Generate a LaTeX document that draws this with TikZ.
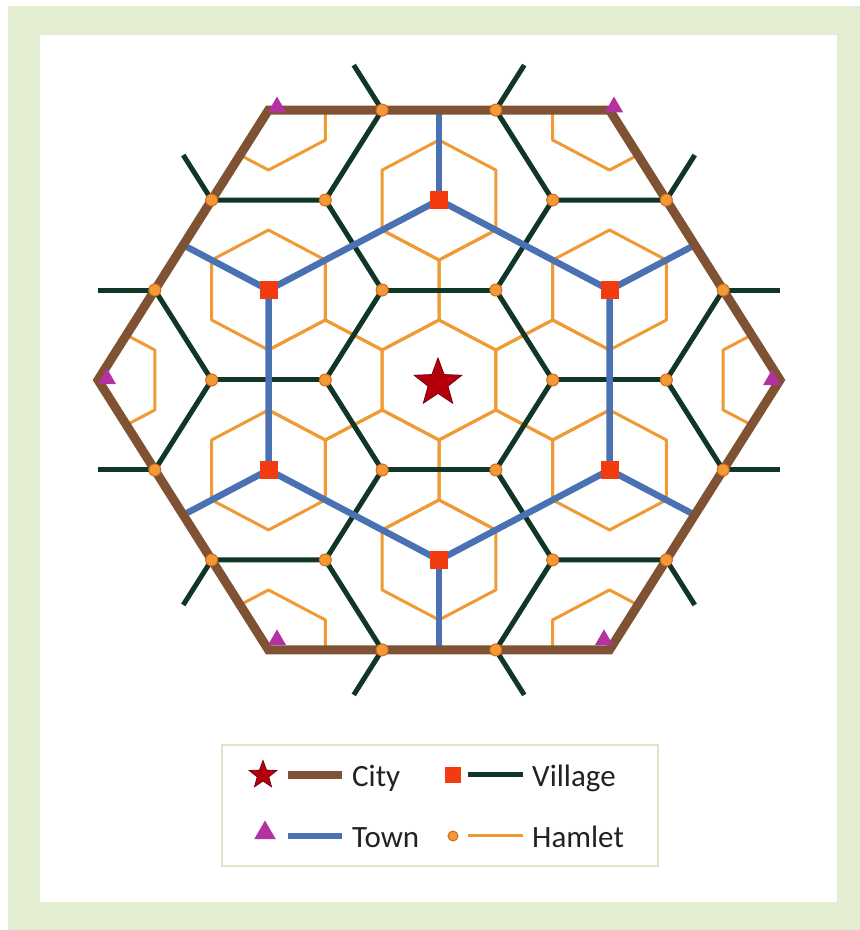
\documentclass[tikz,border=0pt]{standalone}
\usepackage{fontspec}
\setmainfont{Carlito}
\usetikzlibrary{shapes.geometric,calc}
\definecolor{citybrown}{HTML}{7E5233}
\definecolor{townblue}{HTML}{4A72B2}
\definecolor{vilgreen}{HTML}{103626}
\definecolor{hamorange}{HTML}{EF9A35}
\definecolor{dotorange}{HTML}{F39A38}
\definecolor{dotedge}{HTML}{D8681A}
\definecolor{sqred}{HTML}{F23B0E}
\definecolor{starred}{HTML}{B3000C}
\definecolor{stardark}{HTML}{7A0010}
\definecolor{trimag}{HTML}{B4329F}
\definecolor{bggreen}{HTML}{E3EDD2}
\definecolor{legborder}{HTML}{DCE6C8}
\definecolor{txtgray}{HTML}{222222}
\begin{document}
\begin{tikzpicture}[x=1pt,y=1pt,
  hamlet/.style={draw=hamorange, line width=3pt, line join=round},
  village/.style={draw=vilgreen, line width=5pt},
  townline/.style={draw=townblue, line width=6.5pt, line join=round},
  cityline/.style={draw=citybrown, line width=9pt, line join=miter},
  hdot/.style={circle, fill=dotorange, draw=dotedge, line width=1pt, inner sep=0pt, minimum size=12pt},
  vsq/.style={rectangle, fill=sqred, inner sep=0pt, minimum size=18pt},
  tri/.style={regular polygon, regular polygon sides=3, fill=trimag, inner sep=0pt, minimum size=21pt},
  cstar/.style={star, star points=5, star point ratio=2.4, fill=starred, draw=stardark, line width=0.8pt, inner sep=0pt, minimum size=50pt},
  legtext/.style={anchor=base west, font=\fontsize{31}{36}\selectfont, text=txtgray, inner sep=0pt}
]
\useasboundingbox (0,0) rectangle (860,930);
\fill[white] (0,0) rectangle (860,930);
\fill[bggreen] (8,0) rectangle (860,924);
\fill[white] (40,28) rectangle (837,895);

\def\A{113.67}
\def\B{65.63}
\begin{scope}[shift={(439,550)}, yscale=0.914]
  \coordinate (ctr) at (0,0);
  \foreach \k in {0,...,5}{
    \begin{scope}[rotate=60*\k]
      \coordinate (ra\k) at (0:{\A});
      \coordinate (rb\k) at (0:{2*\A});
      \coordinate (bp\k) at ({2.5*\A},{0.866*\A});
      \coordinate (bm\k) at ({2.5*\A},{-0.866*\A});
      \coordinate (hp\k) at ({3*\A},{0.866*\A});
      \coordinate (hm\k) at ({3*\A},{-0.866*\A});
      \coordinate (cv\k) at (0:{3*\A});
      \coordinate (tw\k) at (30:{1.732*\A});
      \coordinate (em\k) at (30:{2.598*\A});
    \end{scope}
  }
  % hamlet market areas
  \draw[hamlet] (30:\B) -- (90:\B) -- (150:\B) -- (210:\B) -- (270:\B) -- (330:\B) -- cycle;
  \foreach \k in {0,...,5}{
    \begin{scope}[rotate=60*\k, shift={(0:{\A})}]
      \draw[hamlet] (30:\B) -- (90:\B) -- (150:\B) -- (210:\B) -- (270:\B) -- (330:\B) -- cycle;
    \end{scope}
    \begin{scope}[rotate=60*\k, shift={(30:{1.732*\A})}]
      \draw[hamlet] (30:\B) -- (90:\B) -- (150:\B) -- (210:\B) -- (270:\B) -- (330:\B) -- cycle;
    \end{scope}
  }
  \begin{scope}
    \clip (cv0) -- (cv1) -- (cv2) -- (cv3) -- (cv4) -- (cv5) -- cycle;
    \foreach \k in {0,...,5}{
      \begin{scope}[rotate=60*\k, shift={(0:{3*\A})}]
        \draw[hamlet] (30:\B) -- (90:\B) -- (150:\B) -- (210:\B) -- (270:\B) -- (330:\B) -- cycle;
      \end{scope}
    }
  \end{scope}
\end{scope}

% village network
\foreach \k in {0,...,5}{
  \pgfmathtruncatemacro{\n}{mod(\k+1,6)}
  \draw[village] (ra\k) -- (ra\n);
  \draw[village] (ra\k) -- (rb\k);
  \draw[village] (bp\k) -- (rb\k) -- (bm\k);
  \draw[village] (bp\k) -- (hp\k);
  \draw[village] (bm\k) -- (hm\k);
}
% town network
\draw[townline] (tw0) -- (tw1) -- (tw2) -- (tw3) -- (tw4) -- (tw5) -- cycle;
\foreach \k in {0,...,5}{
  \draw[townline] (tw\k) -- (em\k);
}
% city boundary
\draw[cityline] (cv0) -- (cv1) -- (cv2) -- (cv3) -- (cv4) -- (cv5) -- cycle;

% markers
\foreach \k in {0,...,5}{
  \node[hdot] (da\k) at (ra\k) {};
  \node[hdot] (db\k) at (rb\k) {};
  \node[hdot] (dp\k) at (bp\k) {};
  \node[hdot] (dm\k) at (bm\k) {};
  \node[vsq] (sq\k) at (tw\k) {};
}
\node[cstar] (city) at (438,547) {};
\node[tri] (t0) at ($(cv0)+(-8,0)$) {};
\node[tri] (t1) at ($(cv1)+(4.5,3)$) {};
\node[tri] (t2) at ($(cv2)+(8.5,3)$) {};
\node[tri] (t3) at ($(cv3)+(9,1)$) {};
\node[tri] (t4) at ($(cv4)+(8.5,10)$) {};
\node[tri] (t5) at ($(cv5)+(-5.5,10)$) {};

% legend
\draw[legborder, line width=2pt, fill=white] (222,64) rectangle (658,185);
\node[cstar, minimum size=29pt] (lstar) at (263,155) {};
\draw[citybrown, line width=8pt] (288,155) -- (342,155);
\node[legtext] (lcity) at (352,143) {City};
\node[vsq, minimum size=16pt] (lsq) at (453,155) {};
\draw[vilgreen, line width=5pt] (468,155) -- (523,155);
\node[legtext] (lvil) at (532,143) {Village};
\node[tri, minimum size=25pt] (ltri) at (265,97) {};
\draw[townblue, line width=6pt] (288,94) -- (342,94);
\node[legtext] (ltown) at (352,82) {Town};
\node[hdot, minimum size=10pt] (ldot) at (453,94) {};
\draw[hamorange, line width=3pt] (468,94) -- (523,94);
\node[legtext] (lham) at (532,82) {Hamlet};
\end{tikzpicture}
\end{document}
